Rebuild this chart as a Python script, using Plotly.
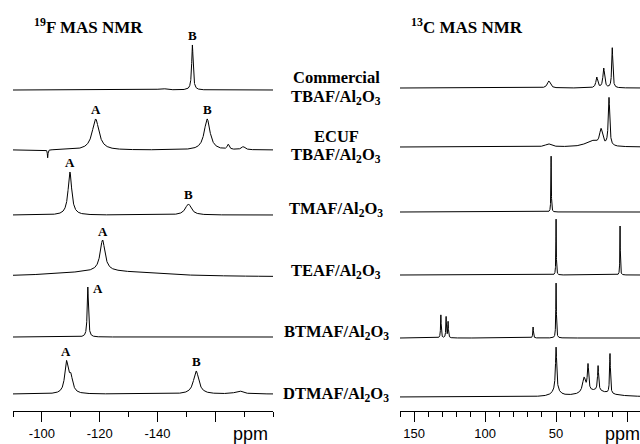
import numpy as np
import plotly.graph_objects as go

# ---------------- data ----------------
# Each peak: (chemical shift in ppm, height in arbitrary units, FWHM in ppm)
sample_labels = [
    "<b>Commercial</b><br><b>TBAF/Al<sub>2</sub>O<sub>3</sub></b>",
    "<b>ECUF</b><br><b>TBAF/Al<sub>2</sub>O<sub>3</sub></b>",
    "<b>TMAF/Al<sub>2</sub>O<sub>3</sub></b>",
    "<b>TEAF/Al<sub>2</sub>O<sub>3</sub></b>",
    "<b>BTMAF/Al<sub>2</sub>O<sub>3</sub></b>",
    "<b>DTMAF/Al<sub>2</sub>O<sub>3</sub></b>",
]

f19_commercial = [(-152.1, 45, 0.6), (-141.7, 1.5, 3.0)]
f19_ecuf = [(-118.6, 31, 2.8), (-157.2, 31, 2.4), (-164.5, 5, 0.8), (-169.7, 3, 1.5), (-102.0, -8, 0.25)]
f19_tmaf = [(-109.7, 43, 1.5), (-150.7, 11, 2.5)]
f19_teaf = [(-121.0, 31, 2.0), (-122.0, 6, 40.0)]
f19_btmaf = [(-115.9, 50, 0.5)]
f19_dtmaf = [(-108.5, 30, 1.4), (-110.0, 16, 1.6), (-153.4, 23, 2.2), (-168.3, 3, 3.0)]
f19_spectra = [f19_commercial, f19_ecuf, f19_tmaf, f19_teaf, f19_btmaf, f19_dtmaf]

c13_commercial = [(55.1, 7, 2.5), (21.3, 10.5, 1.5), (16.4, 19.5, 1.4), (10.4, 40, 0.9)]
c13_ecuf = [(55.5, 3, 5.0), (25.0, 6, 10.0), (18.3, 16, 2.5), (12.7, 48, 1.2)]
c13_tmaf = [(53.5, 56, 0.35)]
c13_teaf = [(50.0, 56, 0.35), (4.9, 49, 0.35)]
c13_btmaf = [(131.2, 23, 0.5), (127.5, 21, 0.5), (126.1, 16, 0.5), (66.2, 11, 0.5), (50.0, 55, 0.45)]
c13_dtmaf = [(50.0, 43, 1.0), (50.0, 6, 6.0), (30.3, 15, 2.5), (27.5, 26, 1.1),
             (20.4, 25, 0.9), (12.0, 40, 0.7), (22.0, 6, 22.0)]
c13_spectra = [c13_commercial, c13_ecuf, c13_tmaf, c13_teaf, c13_btmaf, c13_dtmaf]

# peak letters: (spectrum index, ppm, letter)
f19_peak_letters = [(0, -152.1, "B"), (1, -118.6, "A"), (1, -157.2, "B"), (2, -109.7, "A"),
                    (2, -150.7, "B"), (3, -121.0, "A"), (4, -115.9, "A"), (5, -108.5, "A"),
                    (5, -153.4, "B")]

f19_ticks = [-100, -120, -140, -160]
f19_ticktext = ["-100", "-120", "-140", " "]
c13_ticks = [150, 100, 50, 0]
c13_ticktext = ["150", "100", "50", " "]

# ---------------- layout constants (pixels) ----------------
W, H = 640, 444
AXIS_Y = 411
f19_base_px = [90, 150, 215, 277, 337, 394]
c13_base_px = [88, 147, 212, 275, 338, 397]
label_y_px = [(78, 97), (136, 155), 209, 271, 332, 394]
letter_shift = {6: (10, -10)}  # BTMAF label sits to the right of its peak

F_RANGE = [-90, -180]
C_RANGE = [160, -9.15]


def spectrum(x, peaks):
    y = np.zeros_like(x)
    for pos, h, w in peaks:
        y += h / (1.0 + ((x - pos) / (w / 2.0)) ** 2)
    return y


xf = np.linspace(F_RANGE[0], F_RANGE[1], 3601)
xc = np.linspace(C_RANGE[0], C_RANGE[1], 6768)

fig = go.Figure()
f19_curves = []
for i, peaks in enumerate(f19_spectra):
    y = (AXIS_Y - f19_base_px[i]) + spectrum(xf, peaks)
    f19_curves.append(y)
    fig.add_trace(go.Scatter(x=xf, y=y, mode="lines", xaxis="x", yaxis="y",
                             line=dict(color="black", width=1), hoverinfo="skip",
                             showlegend=False))
for i, peaks in enumerate(c13_spectra):
    y = (AXIS_Y - c13_base_px[i]) + spectrum(xc, peaks)
    fig.add_trace(go.Scatter(x=xc, y=y, mode="lines", xaxis="x2", yaxis="y",
                             line=dict(color="black", width=1), hoverinfo="skip",
                             showlegend=False))

annotations = []
serif = "Liberation Serif"
for k, (si, ppm, letter) in enumerate(f19_peak_letters):
    idx = np.argmin(np.abs(xf - ppm))
    top = f19_curves[si][max(idx - 20, 0): idx + 20].max()
    dx, dy = letter_shift.get(k, (0, 0))
    annotations.append(dict(x=ppm, y=top + 9 + dy, xref="x", yref="y", text="<b>%s</b>" % letter,
                            showarrow=False, xanchor="center", yanchor="middle", xshift=dx,
                            font=dict(family=serif, size=13, color="black")))

for i, txt in enumerate(sample_labels):
    ly = label_y_px[i]
    if isinstance(ly, tuple):
        parts = txt.split("<br>")
        for part, py in zip(parts, ly):
            annotations.append(dict(x=336 / W, y=1 - py / H, xref="paper", yref="paper",
                                    text=part, showarrow=False, xanchor="center", yanchor="middle",
                                    font=dict(family=serif, size=16.5, color="black")))
    else:
        annotations.append(dict(x=336 / W, y=1 - ly / H, xref="paper", yref="paper",
                                text=txt, showarrow=False, xanchor="center", yanchor="middle",
                                font=dict(family=serif, size=16.5, color="black")))

annotations.append(dict(x=88 / W, y=1 - 26 / H, xref="paper", yref="paper",
                        text="<b><sup>19</sup>F MAS NMR</b>", showarrow=False,
                        xanchor="center", yanchor="middle",
                        font=dict(family=serif, size=17, color="black")))
annotations.append(dict(x=467 / W, y=1 - 26 / H, xref="paper", yref="paper",
                        text="<b><sup>13</sup>C MAS NMR</b>", showarrow=False,
                        xanchor="center", yanchor="middle",
                        font=dict(family=serif, size=17, color="black")))
for px in (231, 603):
    annotations.append(dict(x=px / W, y=1 - 434 / H, xref="paper", yref="paper",
                            text="ppm", showarrow=False, xanchor="left", yanchor="middle",
                            font=dict(family="Liberation Sans", size=18, color="black")))

axis_common = dict(showgrid=False, zeroline=False, showline=True, linecolor="black",
                   linewidth=1, ticks="outside", ticklen=10, tickwidth=1, tickcolor="black",
                   tickfont=dict(family="Liberation Sans", size=13, color="black"),
                   anchor="y", tickmode="array")

fig.update_layout(
    width=W, height=H, margin=dict(l=0, r=0, t=0, b=0),
    paper_bgcolor="white", plot_bgcolor="white",
    xaxis=dict(domain=[13 / W, 273 / W], range=F_RANGE, tickvals=f19_ticks,
               ticktext=f19_ticktext,
               minor=dict(ticks="outside", ticklen=5, tickcolor="black", tickwidth=1,
                          tick0=0, dtick=10),
               **axis_common),
    xaxis2=dict(domain=[400 / W, 1.0], range=C_RANGE, tickvals=c13_ticks,
                ticktext=c13_ticktext,
                minor=dict(ticks="outside", ticklen=5, tickcolor="black", tickwidth=1,
                           tick0=0, dtick=10),
                **axis_common),
    yaxis=dict(domain=[(H - AXIS_Y) / H, 1.0], range=[0, AXIS_Y], visible=False),
    annotations=annotations,
)

fig.write_html("out.html")
